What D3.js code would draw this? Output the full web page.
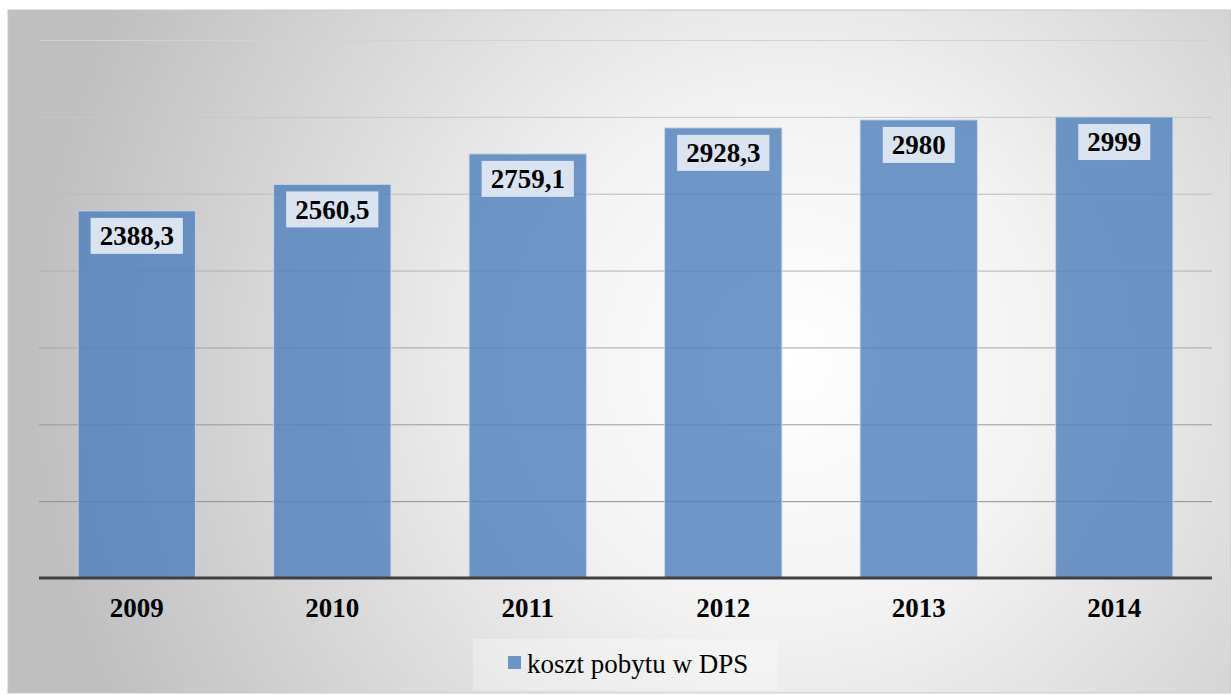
<!DOCTYPE html>
<html lang="pl">
<head>
<meta charset="UTF-8">
<title>koszt pobytu w DPS</title>
<style>
  body { margin: 0; background: #fff; }
</style>
</head>
<body>
<div id="chart"></div>
<script src="https://d3js.org/d3.v7.min.js"></script>
<script>
// data
var years = ["2009", "2010", "2011", "2012", "2013", "2014"];
var values = [2388.3, 2560.5, 2759.1, 2928.3, 2980, 2999];
var valueLabels = ["2388,3", "2560,5", "2759,1", "2928,3", "2980", "2999"];
var gridTicks = [0, 500, 1000, 1500, 2000, 2500, 3000, 3500];
var seriesName = "koszt pobytu w DPS";

var W = 1231, H = 695;
var plot = {left: 39, right: 1212, top: 40, bottom: 578};

var svg = d3.select("#chart").append("svg")
    .attr("width", W)
    .attr("height", H);

var defs = svg.append("defs");
var bg = defs.append("radialGradient")
    .attr("id", "bg")
    .attr("gradientUnits", "userSpaceOnUse")
    .attr("cx", 790).attr("cy", 360).attr("r", 760);
bg.append("stop").attr("offset", "0%").attr("stop-color", "#ffffff");
bg.append("stop").attr("offset", "35%").attr("stop-color", "#f2f2f2");
bg.append("stop").attr("offset", "100%").attr("stop-color", "#bfbfbf");

// panel
svg.append("rect")
    .attr("x", 8).attr("y", 10)
    .attr("width", W - 8).attr("height", 683)
    .attr("fill", "url(#bg)")
    .attr("stroke", "#c8c8c8")
    .attr("stroke-width", 1);

var x = d3.scaleBand()
    .domain(years)
    .range([plot.left, plot.right])
    .paddingInner(0.4)
    .paddingOuter(0.2);

var y = d3.scaleLinear()
    .domain([0, 3500])
    .range([plot.bottom, plot.top]);

var gridColor = d3.scaleLinear()
    .domain([3500, 500])
    .range(["#d2d2d2", "#8f8f8f"]);

// gridlines
svg.append("g")
    .selectAll("line")
    .data(gridTicks.filter(function (d) { return d > 0; }))
    .join("line")
    .attr("x1", plot.left).attr("x2", plot.right)
    .attr("y1", function (d) { return y(d) + 0.5; })
    .attr("y2", function (d) { return y(d) + 0.5; })
    .attr("stroke", function (d) { return gridColor(d); })
    .attr("stroke-width", 1);

var data = years.map(function (d, i) {
    return {year: d, v: values[i], label: valueLabels[i]};
});

// bars
svg.append("g")
    .selectAll("rect")
    .data(data)
    .join("rect")
    .attr("x", function (d) { return x(d.year); })
    .attr("y", function (d) { return y(d.v); })
    .attr("width", x.bandwidth())
    .attr("height", function (d) { return y(0) - y(d.v); })
    .attr("fill", "rgba(79,129,189,0.82)")
    .attr("stroke", "rgba(200,215,235,0.9)")
    .attr("stroke-width", 1);

// value labels
var lab = svg.append("g")
    .selectAll("g")
    .data(data)
    .join("g")
    .attr("transform", function (d) {
        return "translate(" + (x(d.year) + x.bandwidth() / 2) + "," + (y(d.v) + 25) + ")";
    });

lab.append("text")
    .attr("text-anchor", "middle")
    .attr("dy", "0.35em")
    .attr("font-family", "'Liberation Serif', serif")
    .attr("font-weight", "bold")
    .attr("font-size", 27)
    .attr("fill", "#000")
    .text(function (d) { return d.label; })
    .each(function () {
        var bb = this.getBBox();
        d3.select(this.parentNode).insert("rect", "text")
            .attr("x", bb.x - 9)
            .attr("y", -18)
            .attr("width", bb.width + 18)
            .attr("height", 36)
            .attr("fill", "#dae3f0");
    });

// baseline
svg.append("line")
    .attr("x1", plot.left).attr("x2", plot.right)
    .attr("y1", plot.bottom).attr("y2", plot.bottom)
    .attr("stroke", "#404040")
    .attr("stroke-width", 3);

// x labels
svg.append("g")
    .selectAll("text")
    .data(years)
    .join("text")
    .attr("x", function (d) { return x(d) + x.bandwidth() / 2; })
    .attr("y", 617)
    .attr("text-anchor", "middle")
    .attr("font-family", "'Liberation Serif', serif")
    .attr("font-weight", "bold")
    .attr("font-size", 27)
    .attr("fill", "#000")
    .text(function (d) { return d; });

// legend
var leg = svg.append("g");
leg.append("rect")
    .attr("x", 473).attr("y", 639)
    .attr("width", 305).attr("height", 51)
    .attr("fill", "rgba(255,255,255,0.3)");
leg.append("rect")
    .attr("x", 508).attr("y", 656)
    .attr("width", 13).attr("height", 13)
    .attr("fill", "rgba(79,129,189,0.82)");
leg.append("text")
    .attr("x", 527).attr("y", 673)
    .attr("font-family", "'Liberation Serif', serif")
    .attr("font-size", 27)
    .attr("fill", "#000")
    .text(seriesName);
</script>
</body>
</html>
